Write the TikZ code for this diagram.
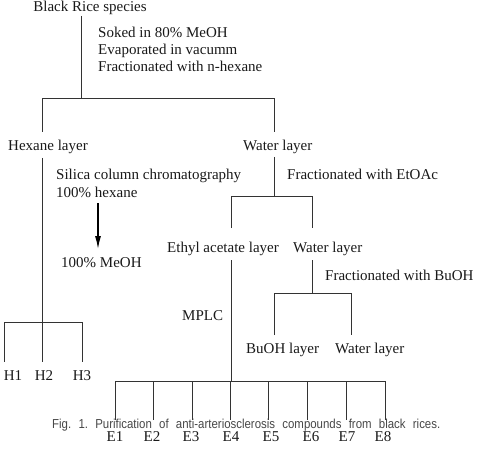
\documentclass[tikz,border=0pt]{standalone}
\usepackage{graphicx}
\usepackage{fontspec}
\setmainfont{Liberation Serif}
\newfontfamily\capfont{Liberation Sans}
\usetikzlibrary{arrows.meta}
\begin{document}
\begin{tikzpicture}[x=1pt,y=-1pt,
  lbl/.style={anchor=base west,inner sep=0pt,font=\fontsize{15}{17}\selectfont,text=black!90},
  clbl/.style={anchor=base,inner sep=0pt,font=\fontsize{15}{17}\selectfont,text=black!90},
  tree/.style={draw=black!80,line width=0.8pt},
  flow/.style={draw=black,line width=1.3pt,-{Latex[length=13pt,width=6pt]}}]
\useasboundingbox (0,0) rectangle (478,462);
% texts
\node[clbl] (br) at (90,11.5) {Black Rice species};
\node[lbl] (s1) at (98,38) {Soked in 80\% MeOH};
\node[lbl] (s2) at (98,55) {Evaporated in vacumm};
\node[lbl] (s3) at (98,72) {Fractionated with n-hexane};
\node[lbl] (hex) at (8,151) {Hexane layer};
\node[lbl] (wat) at (243,151) {Water layer};
\node[lbl] (sil1) at (56,179) {Silica column chromatography};
\node[lbl] (sil2) at (56,197) {100\% hexane};
\node[lbl] (meoh) at (61,267) {100\% MeOH};
\node[lbl] (fea) at (287,179) {Fractionated with EtOAc};
\node[lbl] (eal) at (167,252) {Ethyl acetate layer};
\node[lbl] (wat2) at (293,252) {Water layer};
\node[lbl] (fbu) at (325,280) {Fractionated with BuOH};
\node[lbl] (mplc) at (182,320) {MPLC};
\node[lbl] (bul) at (246,353) {BuOH layer};
\node[lbl] (wat3) at (335,353) {Water layer};
\node[clbl] (H1) at (13,380) {H1};
\node[clbl] (H2) at (44,380) {H2};
\node[clbl] (H3) at (82,380) {H3};
\foreach \n/\x in {1/115,2/152,3/191,4/231,5/271,6/311,7/347,8/383}
  \node[clbl] (E\n) at (\x,441) {E\n};
% coordinates
\coordinate (a0) at (81,16);  \coordinate (a1) at (81,98);
\coordinate (hL) at (42.5,98); \coordinate (hR) at (274,98);
\coordinate (hLb) at (42.5,132); \coordinate (hRb) at (274,132);
\coordinate (hx0) at (42.5,158); \coordinate (hx1) at (42.5,322);
\coordinate (Hl) at (4,322); \coordinate (Hr) at (82,322);
\coordinate (w0) at (274,157); \coordinate (w1) at (274,196);
\coordinate (wl) at (231,196); \coordinate (wr) at (312,196);
\coordinate (wlb) at (231,228); \coordinate (wrb) at (312,228);
\coordinate (ea0) at (231,260); \coordinate (ea1) at (231,381);
\coordinate (wa0) at (312,260); \coordinate (wa1) at (312,293);
\coordinate (bl) at (274,293); \coordinate (bR) at (351,293);
\coordinate (blb) at (274,335); \coordinate (bRb) at (351,335);
\coordinate (El) at (115,381); \coordinate (Er) at (385,381);
\coordinate (ar0) at (98,203); \coordinate (ar1) at (98,249);
% tree lines
\draw[tree] (a0) -- (a1);
\draw[tree] (hLb) -- (hL) -- (hR) -- (hRb);
\draw[tree] (hx0) -- (hx1);
\draw[tree] (Hl) -- (Hr);
\foreach \x in {4,42.5,82} \draw[tree] (\x,322) -- (\x,362);
\draw[tree] (w0) -- (w1);
\draw[tree] (wlb) -- (wl) -- (wr) -- (wrb);
\draw[tree] (ea0) -- (ea1);
\draw[tree] (wa0) -- (wa1);
\draw[tree] (blb) -- (bl) -- (bR) -- (bRb);
\draw[tree] (El) -- (Er);
\foreach \x in {115,153,192,230,268,307,346,385} \draw[tree] (\x,381) -- (\x,420);
\draw[flow] (ar0) -- (ar1);
% caption
\node[anchor=base west,inner sep=0pt,text=black!72,font=\capfont\fontsize{13}{15}\selectfont] (cap) at (52,428)
  {\frenchspacing\scalebox{0.88}[1]{\makebox[441pt][s]{Fig. 1. Purification of anti-arteriosclerosis compounds from black rices.}}};
\end{tikzpicture}
\end{document}
